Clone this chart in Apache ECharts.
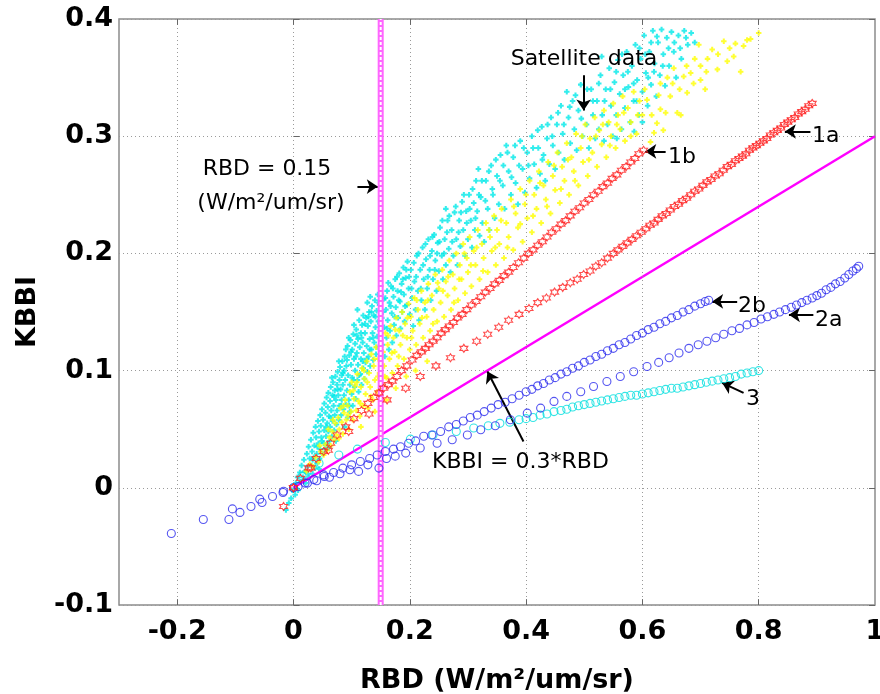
<!DOCTYPE html>
<html><head><meta charset="utf-8">
<script src="https://cdn.jsdelivr.net/npm/echarts@6/dist/echarts.min.js"></script>
<style>html,body{margin:0;padding:0;background:#fff}#c{width:880px;height:694px}</style>
</head><body><div id="c"></div>
<script>
// ---------- axis ticks ----------
const xTickValues = [-0.2, 0, 0.2, 0.4, 0.6, 0.8];
const xRange = [-0.3, 1];
const yRange = [-0.1, 0.4];
const rbdThreshold = 0.15;
const kbbiSlope = 0.3;

// ---------- satellite data (cyan) ----------
const satCyan = [
[-0.013,-0.019],[-0.008,-0.013],[-0.004,-0.009],[-0.002,-0.002],[0.003,-0.006],[0.004,0.004],[0.007,0.009],[0.008,-0.002],[0.011,0.013],[0.012,0.005],[0.014,0.019],[0.016,0.009],[0.018,0.024],[0.019,0.014],[0.021,0.004],[0.023,0.029],[0.024,0.018],[0.026,0.035],[0.027,0.009],[0.028,0.025],
[0.03,0.041],[0.031,0.019],[0.032,0.031],[0.033,0.012],[0.034,0.047],[0.035,0.026],[0.036,0.036],[0.037,0.017],[0.038,0.052],[0.039,0.043],[0.04,0.029],[0.041,0.021],[0.042,0.057],[0.043,0.038],[0.044,0.048],[0.045,0.025],[0.046,0.062],[0.046,0.033],[0.047,0.053],[0.048,0.043],[0.049,0.067],[0.05,0.029],[0.051,0.058],[0.052,0.038],[0.053,0.072],[0.053,0.049],[0.054,0.033],[0.055,0.064],[0.056,0.044],[0.057,0.077],[0.058,0.055],[0.058,0.037],[0.059,0.069],[0.06,0.048],[0.06,0.081],
[0.061,0.061],[0.062,0.04],[0.063,0.074],[0.063,0.052],[0.064,0.086],[0.065,0.066],[0.066,0.044],[0.067,0.079],[0.067,0.057],[0.068,0.09],[0.069,0.07],[0.07,0.049],[0.071,0.083],[0.071,0.062],[0.072,0.095],[0.073,0.075],[0.074,0.054],[0.075,0.088],[0.075,0.066],[0.076,0.099],[0.077,0.079],[0.078,0.058],[0.079,0.092],[0.079,0.07],[0.08,0.103],[0.081,0.084],[0.082,0.062],[0.083,0.096],[0.083,0.075],[0.084,0.108],[0.085,0.088],[0.086,0.067],[0.087,0.1],[0.087,0.079],[0.088,0.112],[0.089,0.092],[0.09,0.071],[0.09,0.118],[0.066,0.094],[0.078,0.108],
[0.091,0.104],[0.092,0.083],[0.093,0.06],[0.093,0.121],[0.094,0.096],[0.095,0.075],[0.096,0.113],[0.097,0.088],[0.097,0.065],[0.098,0.126],[0.099,0.105],[0.1,0.08],[0.101,0.118],[0.101,0.094],[0.102,0.07],[0.103,0.131],[0.104,0.11],[0.105,0.086],[0.106,0.123],[0.106,0.1],[0.107,0.076],[0.108,0.135],[0.109,0.115],[0.11,0.092],[0.111,0.127],[0.111,0.105],[0.112,0.082],[0.113,0.143],[0.114,0.12],[0.115,0.097],[0.116,0.132],[0.116,0.11],[0.117,0.088],[0.118,0.139],[0.119,0.124],[0.12,0.102],[0.12,0.147],[0.104,0.139],[0.095,0.128],[0.11,0.152],
[0.121,0.115],[0.122,0.093],[0.123,0.132],[0.124,0.107],[0.125,0.145],[0.126,0.121],[0.127,0.099],[0.128,0.138],[0.129,0.112],[0.13,0.15],[0.131,0.127],[0.132,0.104],[0.133,0.142],[0.134,0.118],[0.135,0.155],[0.136,0.132],[0.137,0.109],[0.138,0.147],[0.139,0.124],[0.14,0.16],[0.141,0.137],[0.142,0.114],[0.143,0.151],[0.144,0.129],[0.145,0.165],[0.146,0.142],[0.147,0.12],[0.148,0.156],[0.149,0.134],[0.15,0.172],[0.132,0.163],[0.127,0.158],
[0.152,0.145],[0.153,0.122],[0.155,0.161],[0.156,0.137],[0.157,0.112],[0.159,0.152],[0.16,0.128],[0.161,0.168],[0.162,0.143],[0.164,0.118],[0.165,0.158],[0.166,0.134],[0.168,0.172],[0.169,0.149],[0.17,0.124],[0.172,0.163],[0.173,0.139],[0.175,0.178],[0.176,0.154],[0.177,0.13],[0.179,0.168],[0.18,0.145],[0.182,0.183],[0.183,0.159],[0.184,0.136],[0.186,0.174],[0.187,0.15],[0.189,0.188],[0.19,0.165],[0.191,0.142],[0.193,0.179],[0.195,0.156],[0.196,0.193],[0.198,0.17],[0.2,0.148],
[0.202,0.186],[0.204,0.162],[0.206,0.138],[0.208,0.176],[0.21,0.152],[0.212,0.198],[0.214,0.168],[0.216,0.143],[0.218,0.186],[0.22,0.16],[0.222,0.205],[0.224,0.178],[0.226,0.152],[0.228,0.195],[0.23,0.17],[0.232,0.212],[0.234,0.186],[0.236,0.16],[0.238,0.202],[0.24,0.178],[0.242,0.216],[0.244,0.194],[0.246,0.168],[0.248,0.209],[0.25,0.185],
[0.252,0.222],[0.255,0.198],[0.257,0.178],[0.26,0.212],[0.262,0.19],[0.265,0.228],[0.267,0.204],[0.27,0.184],[0.272,0.22],[0.275,0.198],[0.277,0.235],[0.28,0.212],[0.282,0.19],[0.285,0.228],[0.287,0.206],[0.29,0.244],[0.292,0.22],[0.295,0.198],[0.297,0.236],[0.3,0.212],[0.302,0.25],[0.305,0.228],[0.307,0.205],[0.31,0.243],[0.312,0.22],[0.314,0.262],[0.316,0.236],[0.318,0.272],[0.32,0.215],[0.262,0.238],
[0.322,0.248],[0.325,0.226],[0.328,0.21],[0.331,0.262],[0.334,0.238],[0.337,0.22],[0.34,0.275],[0.343,0.25],[0.346,0.23],[0.35,0.266],[0.353,0.242],[0.356,0.284],[0.36,0.258],[0.363,0.238],[0.366,0.292],[0.37,0.27],[0.374,0.25],[0.378,0.282],[0.382,0.26],[0.386,0.242],[0.39,0.296],[0.394,0.272],[0.398,0.252],[0.402,0.286],[0.406,0.264],[0.41,0.3],[0.414,0.276],[0.418,0.256],
[0.421,0.29],[0.424,0.268],[0.427,0.308],[0.43,0.284],[0.433,0.262],[0.436,0.298],[0.44,0.276],[0.443,0.316],[0.446,0.292],[0.45,0.272],[0.453,0.31],[0.456,0.286],[0.46,0.326],[0.463,0.302],[0.466,0.28],[0.47,0.338],[0.473,0.316],[0.476,0.294],[0.48,0.33],[0.483,0.306],[0.487,0.288],[0.49,0.322],[0.494,0.344],[0.497,0.3],[0.5,0.328],[0.504,0.31],[0.508,0.29],[0.512,0.34],[0.515,0.318],[0.519,0.298],
[0.522,0.33],[0.525,0.306],[0.528,0.352],[0.531,0.318],[0.534,0.296],[0.537,0.34],[0.54,0.31],[0.543,0.358],[0.546,0.326],[0.549,0.3],[0.552,0.346],[0.555,0.318],[0.558,0.365],[0.561,0.336],[0.564,0.306],[0.567,0.352],[0.57,0.324],[0.573,0.372],[0.576,0.342],[0.579,0.312],[0.582,0.36],[0.585,0.33],[0.588,0.378],[0.591,0.348],[0.594,0.318],[0.597,0.366],[0.6,0.338],[0.603,0.386],[0.606,0.354],[0.609,0.326],[0.612,0.372],[0.615,0.344],[0.618,0.39],[0.621,0.362],[0.624,0.334],[0.627,0.38],[0.63,0.352],[0.633,0.391],[0.636,0.37],[0.639,0.343],[0.642,0.384],[0.646,0.36],[0.65,0.389],[0.654,0.372],[0.658,0.35],[0.662,0.386],[0.667,0.366],[0.672,0.39],[0.678,0.378],[0.684,0.388],[0.69,0.38],[0.556,0.298],[0.586,0.304],[0.6,0.312],[0.53,0.368],
[0.018,0.006],[0.025,0.012],[0.033,0.024],[0.041,0.035],[0.044,0.016],[0.049,0.04],[0.056,0.052],[0.061,0.034],[0.064,0.06],[0.07,0.078],[0.073,0.04],[0.076,0.084],[0.082,0.07],[0.085,0.098],[0.088,0.052],[0.092,0.109],[0.096,0.07],[0.099,0.116],[0.103,0.092],[0.107,0.112],[0.109,0.13],[0.113,0.096],[0.117,0.128],[0.119,0.108],[0.123,0.14],[0.126,0.11],[0.129,0.146],[0.131,0.118],[0.134,0.15],[0.137,0.128],[0.141,0.146],[0.143,0.12],[0.146,0.158],[0.149,0.14],[0.151,0.165],[0.154,0.15],[0.158,0.162],[0.161,0.136],[0.163,0.175],[0.167,0.155],[0.171,0.17],[0.174,0.146],[0.178,0.18],[0.181,0.16],[0.185,0.167],[0.188,0.178],[0.192,0.155],[0.194,0.186],[0.199,0.18],[0.203,0.17],[0.207,0.192],[0.211,0.18],[0.215,0.2],[0.219,0.17],[0.223,0.19],[0.227,0.208],[0.231,0.18],[0.235,0.198],[0.239,0.214],[0.243,0.186],[0.247,0.2],[0.251,0.21],[0.256,0.228],[0.259,0.2],[0.264,0.218],[0.268,0.232],[0.273,0.21],[0.279,0.24],[0.284,0.218],[0.288,0.235],[0.293,0.25],[0.298,0.226],[0.303,0.238],[0.308,0.255],[0.313,0.23],[0.319,0.25],[0.324,0.262],[0.33,0.245],[0.336,0.27],[0.342,0.255],[0.348,0.28],[0.355,0.262],[0.361,0.275],[0.368,0.286],[0.375,0.265],[0.381,0.292],[0.388,0.275],[0.396,0.29],[0.404,0.275],[0.412,0.29],[0.42,0.305],[0.428,0.28],[0.437,0.31],[0.445,0.3],[0.455,0.32],[0.465,0.31],[0.475,0.325],[0.485,0.335],[0.495,0.315],[0.505,0.34],[0.515,0.33],[0.525,0.345],[0.535,0.33],[0.545,0.34],[0.555,0.355],[0.565,0.37],[0.575,0.355],[0.585,0.345],[0.595,0.375],[0.605,0.37],[0.615,0.38],[0.625,0.385],[0.635,0.36],[0.645,0.375],[0.655,0.38],[0.665,0.375],[0.675,0.384],[0.61,0.35],[0.59,0.33],[0.57,0.34],[0.62,0.355]
];

// ---------- satellite data (yellow) ----------
const satYellow = [
[0.022,0.014],[0.028,0.02],[0.034,0.018],[0.038,0.026],[0.043,0.022],[0.047,0.031],[0.052,0.028],[0.055,0.037],[0.058,0.032],[0.062,0.043],
[0.064,0.036],[0.067,0.048],[0.07,0.041],[0.072,0.055],[0.074,0.045],[0.077,0.06],[0.079,0.05],[0.081,0.068],[0.083,0.056],[0.085,0.046],[0.087,0.064],[0.089,0.075],[0.091,0.058],[0.093,0.07],[0.095,0.05],[0.097,0.082],[0.099,0.065],[0.1,0.09],
[0.102,0.058],[0.104,0.076],[0.106,0.087],[0.108,0.066],[0.11,0.097],[0.112,0.074],[0.114,0.061],[0.116,0.086],[0.118,0.102],[0.12,0.07],[0.122,0.093],[0.124,0.08],[0.126,0.108],[0.128,0.068],[0.13,0.098],[0.132,0.086],[0.134,0.114],[0.136,0.075],[0.138,0.104],[0.14,0.092],[0.142,0.12],[0.144,0.082],[0.146,0.11],[0.148,0.098],[0.15,0.126],[0.116,0.052],[0.14,0.065],
[0.152,0.088],[0.154,0.116],[0.156,0.104],[0.158,0.132],[0.16,0.094],[0.162,0.122],[0.165,0.11],[0.167,0.138],[0.17,0.098],[0.172,0.128],[0.174,0.116],[0.177,0.145],[0.179,0.104],[0.182,0.134],[0.184,0.122],[0.187,0.15],[0.19,0.11],[0.192,0.14],[0.195,0.128],[0.198,0.157],[0.2,0.118],[0.176,0.085],[0.194,0.095],[0.16,0.075],
[0.202,0.146],[0.205,0.134],[0.208,0.162],[0.211,0.122],[0.214,0.152],[0.217,0.14],[0.22,0.168],[0.223,0.128],[0.226,0.158],[0.229,0.146],[0.232,0.174],[0.235,0.134],[0.238,0.164],[0.241,0.152],[0.244,0.182],[0.247,0.142],[0.25,0.17],[0.21,0.1],[0.23,0.108],
[0.253,0.158],[0.256,0.186],[0.259,0.146],[0.262,0.176],[0.265,0.164],[0.268,0.194],[0.271,0.152],[0.274,0.182],[0.277,0.17],[0.28,0.2],[0.283,0.16],[0.286,0.19],[0.289,0.178],[0.292,0.208],[0.295,0.166],[0.298,0.196],[0.3,0.184],
[0.303,0.214],[0.306,0.172],[0.31,0.202],[0.313,0.19],[0.317,0.22],[0.32,0.178],[0.324,0.208],[0.327,0.196],[0.331,0.226],[0.334,0.184],[0.338,0.214],[0.341,0.202],[0.345,0.232],[0.348,0.19],[0.35,0.22],
[0.354,0.208],[0.358,0.238],[0.362,0.196],[0.366,0.226],[0.37,0.214],[0.374,0.246],[0.378,0.203],[0.382,0.234],[0.386,0.222],[0.39,0.255],[0.394,0.21],[0.398,0.242],
[0.402,0.23],[0.406,0.262],[0.41,0.218],[0.414,0.25],[0.418,0.238],[0.422,0.27],[0.426,0.226],[0.43,0.258],[0.434,0.246],[0.438,0.278],[0.442,0.234],[0.446,0.266],[0.45,0.254],
[0.454,0.286],[0.458,0.243],[0.462,0.274],[0.466,0.262],[0.47,0.294],[0.474,0.25],[0.478,0.282],[0.482,0.27],[0.486,0.302],[0.49,0.258],[0.494,0.29],[0.498,0.278],
[0.502,0.31],[0.506,0.266],[0.51,0.298],[0.514,0.286],[0.518,0.316],[0.522,0.274],[0.526,0.305],[0.53,0.293],[0.534,0.322],[0.538,0.282],[0.542,0.312],[0.546,0.3],[0.55,0.328],
[0.554,0.29],[0.558,0.318],[0.562,0.306],[0.566,0.334],[0.57,0.296],[0.575,0.324],[0.58,0.312],[0.585,0.338],[0.59,0.302],[0.595,0.33],[0.6,0.318],
[0.608,0.331],[0.614,0.295],[0.62,0.303],[0.625,0.311],[0.631,0.323],[0.631,0.345],[0.636,0.305],[0.643,0.35],[0.648,0.334],[0.654,0.358],[0.66,0.32],[0.666,0.318],[0.671,0.351],[0.677,0.337],[0.683,0.354],[0.697,0.378],[0.7,0.36],[0.7,0.348],[0.712,0.366],[0.72,0.374],[0.729,0.357],[0.74,0.381],[0.746,0.364],[0.757,0.368],[0.76,0.379],[0.769,0.355],[0.774,0.377],[0.78,0.382],[0.786,0.383],[0.8,0.388],[0.69,0.366],[0.708,0.34],
[0.045,0.036],[0.06,0.05],[0.068,0.058],[0.078,0.042],[0.086,0.07],[0.094,0.062],[0.103,0.083],[0.109,0.09],[0.115,0.072],[0.121,0.1],[0.127,0.09],[0.133,0.078],[0.139,0.11],[0.145,0.095],[0.151,0.112],[0.157,0.095],[0.163,0.13],[0.169,0.115],[0.175,0.135],[0.181,0.112],[0.188,0.13],[0.196,0.145],[0.203,0.128],[0.212,0.16],[0.221,0.145],[0.231,0.16],[0.24,0.14],[0.248,0.175],[0.257,0.168],[0.266,0.18],[0.276,0.158],[0.285,0.178],[0.294,0.2],[0.305,0.19],[0.315,0.205],[0.326,0.185],[0.336,0.22],[0.347,0.205],[0.357,0.228],[0.368,0.205],[0.379,0.24],[0.39,0.225],[0.4,0.25],[0.412,0.232],[0.424,0.26],[0.436,0.24],[0.448,0.275],[0.46,0.255],[0.472,0.28],[0.484,0.262],[0.496,0.3],[0.508,0.28],[0.52,0.3],[0.532,0.31],[0.544,0.292],[0.556,0.31],[0.568,0.32],[0.58,0.3],[0.592,0.318],[0.604,0.34],[0.616,0.318],[0.628,0.335],[0.64,0.32],[0.652,0.345],[0.664,0.34],[0.676,0.36],[0.688,0.345],[0.71,0.355],[0.73,0.37],[0.75,0.375]
];

// ---------- model curves ----------
const curve1a = [
[0,0],[0.03,0.017],[0.06,0.032],[0.095,0.048],[0.13,0.063],[0.161,0.075],[0.193,0.085],[0.218,0.095],[0.245,0.104],[0.27,0.111],[0.293,0.119],[0.315,0.125],[0.334,0.131],[0.353,0.137],[0.37,0.143],[0.388,0.148],[0.405,0.153],[0.42,0.158],[0.435,0.162],[0.449,0.167],[0.463,0.171],[0.476,0.175],[0.488,0.178],[0.499,0.182],[0.51,0.185],
[0.52,0.189],[0.53,0.192],[0.54,0.196],[0.55,0.2],[0.558,0.203],[0.566,0.206],[0.574,0.209],[0.582,0.212],[0.59,0.215],[0.598,0.218],[0.606,0.221],[0.613,0.224],[0.62,0.226],[0.627,0.229],[0.634,0.232],[0.641,0.234],[0.648,0.237],[0.655,0.24],[0.662,0.242],[0.669,0.245],[0.676,0.247],[0.683,0.25],[0.69,0.253],[0.697,0.255],[0.704,0.258],[0.711,0.261],[0.718,0.263],[0.725,0.266],[0.732,0.268],[0.739,0.271],[0.746,0.274],[0.753,0.276],[0.76,0.279],[0.766,0.281],[0.772,0.283],[0.778,0.285],[0.784,0.288],[0.79,0.29],[0.796,0.292],[0.802,0.294],[0.808,0.296],[0.814,0.298],[0.82,0.301],[0.826,0.303],[0.832,0.305],[0.838,0.307],[0.844,0.31],[0.85,0.312],[0.856,0.314],[0.862,0.316],[0.868,0.319],[0.874,0.321],[0.88,0.323],[0.886,0.326],[0.892,0.328]
];
const curve1b = [
[-0.017,-0.016],[0,0],[0.012,0.008],[0.026,0.017],[0.039,0.025],[0.052,0.031],[0.064,0.038],[0.075,0.045],[0.09,0.052],[0.104,0.059],[0.117,0.066],[0.128,0.072],[0.138,0.077],[0.147,0.081],[0.155,0.085],[0.163,0.088],[0.17,0.091],[0.178,0.095],[0.186,0.1],[0.195,0.104],[0.204,0.109],[0.212,0.113],[0.22,0.116],[0.227,0.119],[0.233,0.122],[0.24,0.125],[0.247,0.128],[0.254,0.132],[0.261,0.135],[0.268,0.138],[0.275,0.141],[0.282,0.145],[0.29,0.148],[0.298,0.152],[0.306,0.156],[0.314,0.159],[0.322,0.163],[0.33,0.167],[0.338,0.17],[0.346,0.174],[0.354,0.177],[0.362,0.181],[0.37,0.184],[0.378,0.188],[0.387,0.192],[0.396,0.196],[0.404,0.2],[0.412,0.203],[0.42,0.207],[0.428,0.21],[0.436,0.214],[0.444,0.218],[0.452,0.221],[0.46,0.225],[0.468,0.228],[0.476,0.232],[0.484,0.236],[0.492,0.239],[0.5,0.243],[0.508,0.246],[0.516,0.25],[0.524,0.253],[0.532,0.257],[0.54,0.26],[0.548,0.264],[0.556,0.267],[0.564,0.271],[0.572,0.274],[0.58,0.278],[0.587,0.281],[0.594,0.285],[0.602,0.288]
];
const curve2a = [
[-0.21,-0.039],[-0.155,-0.027],[-0.111,-0.027],[-0.105,-0.018],[-0.092,-0.021],[-0.073,-0.016],[-0.058,-0.0097],[-0.054,-0.0125],[-0.036,-0.0074],[-0.018,-0.004],[-0.017,-0.003],[0,0],[0.008,0.001],[0.024,0.004],[0.04,0.006],[0.053,0.0097],[0.062,0.009],[0.08,0.012],[0.097,0.0154],[0.112,0.014],[0.128,0.0196],[0.147,0.0168],[0.16,0.025],[0.175,0.027],[0.193,0.0296],[0.218,0.0339],[0.247,0.038],[0.273,0.041],[0.299,0.045],[0.322,0.0495],[0.347,0.053],[0.373,0.058],[0.402,0.0637],[0.425,0.068],[0.448,0.0737],[0.47,0.078],[0.494,0.082],[0.516,0.0864],[0.539,0.0907],[0.562,0.095],[0.585,0.099],[0.608,0.1035],[0.628,0.107],[0.646,0.111],[0.663,0.115],[0.68,0.119],[0.696,0.122],[0.711,0.125],[0.726,0.128],[0.74,0.131],[0.754,0.134],[0.767,0.136],[0.78,0.139],[0.792,0.141],[0.804,0.144],[0.815,0.146],[0.826,0.148],[0.836,0.15],[0.846,0.152],[0.856,0.154],[0.865,0.156],[0.874,0.158],[0.883,0.16],[0.892,0.162],[0.9,0.164],[0.908,0.166],[0.916,0.169],[0.924,0.171],[0.932,0.174],[0.94,0.176],[0.948,0.179],[0.955,0.182],[0.962,0.185],[0.968,0.187],[0.972,0.189]
];
const curve2b = [
[0.02,0.004],[0.035,0.007],[0.052,0.011],[0.069,0.013],[0.085,0.0168],[0.1,0.0196],[0.115,0.0225],[0.131,0.025],[0.144,0.028],[0.158,0.031],[0.172,0.033],[0.184,0.035],[0.198,0.038],[0.21,0.04],[0.224,0.044],[0.238,0.045],[0.253,0.048],[0.267,0.052],[0.28,0.054],[0.292,0.057],[0.304,0.06],[0.316,0.062],[0.328,0.065],[0.34,0.068],[0.352,0.071],[0.364,0.073],[0.376,0.076],[0.388,0.079],[0.4,0.082],[0.41,0.084],[0.42,0.087],[0.43,0.089],[0.44,0.092],[0.45,0.094],[0.46,0.097],[0.47,0.099],[0.48,0.102],[0.49,0.104],[0.5,0.107],[0.51,0.109],[0.52,0.112],[0.53,0.114],[0.54,0.117],[0.55,0.119],[0.56,0.122],[0.57,0.124],[0.58,0.127],[0.59,0.13],[0.6,0.132],[0.61,0.135],[0.62,0.137],[0.63,0.14],[0.64,0.142],[0.65,0.145],[0.66,0.147],[0.67,0.15],[0.68,0.152],[0.69,0.155],[0.7,0.157],[0.708,0.159],[0.714,0.16]
];
const curve3 = [
[0,0],[0.015,0.01],[0.044,0.021],[0.078,0.028],[0.11,0.033],[0.158,0.0387],[0.201,0.0415],[0.24,0.045],[0.28,0.048],[0.31,0.051],[0.335,0.053],[0.355,0.055],[0.372,0.056],[0.388,0.058],[0.4,0.059],[0.412,0.06],[0.424,0.062],[0.436,0.063],[0.448,0.065],[0.46,0.066],[0.47,0.067],[0.48,0.069],[0.49,0.07],[0.5,0.071],[0.51,0.072],[0.52,0.073],[0.53,0.074],[0.54,0.075],[0.55,0.076],[0.56,0.077],[0.57,0.078],[0.58,0.079],[0.59,0.079],[0.6,0.08],[0.61,0.081],[0.62,0.082],[0.63,0.083],[0.64,0.084],[0.65,0.085],[0.66,0.085],[0.67,0.086],[0.68,0.087],[0.69,0.088],[0.7,0.089],[0.71,0.09],[0.72,0.091],[0.73,0.092],[0.74,0.093],[0.75,0.094],[0.76,0.095],[0.77,0.097],[0.78,0.098],[0.79,0.099],[0.8,0.1]
];

// ---------- annotation arrows (from, to) in data units ----------
const arrowPairs = [
  [[0.499,0.352],[0.499,0.322]],
  [[0.11,0.257],[0.145,0.257]],
  [[0.64,0.287],[0.605,0.287]],
  [[0.889,0.304],[0.845,0.304]],
  [[0.763,0.159],[0.72,0.159]],
  [[0.894,0.1476],[0.852,0.1476]],
  [[0.774,0.081],[0.737,0.0896]],
  [[0.3955,0.0395],[0.3336,0.0992]]
];

const chart = echarts.init(document.getElementById('c'), null, {renderer:'canvas'});
const FONT = 'DejaVu Sans';
const axisFont = {fontSize:27, fontWeight:'bold', fontFamily:FONT, color:'#000'};
const starPath = 'path://M10,0L12.89,5L18.66,5L15.77,10L18.66,15L12.89,15L10,20L7.11,15L1.34,15L4.23,10L1.34,5L7.11,5Z';
const plusPath = 'path://M2.5,0H5.5V2.5H8V5.5H5.5V8H2.5V5.5H0V2.5H2.5Z';

function hollow(name, data, symbol, size, color, z){
  return {name, type:'scatter', data, symbol, symbolSize:size, z, silent:true,
    emphasis:{disabled:true},
    itemStyle:{color:'rgba(0,0,0,0)', borderColor:color, borderWidth:1.1}};
}

const option = {
  animation:false,
  backgroundColor:'#fff',
  grid:{left:119, right:5, top:19, bottom:89, show:true, borderColor:'#8c8c8c', borderWidth:1.5, containLabel:false, outerBoundsMode:'none'},
  xAxis:{type:'value', min:xRange[0], max:xRange[1], interval:0.1,
    axisLine:{show:false}, axisTick:{show:false}, splitLine:{show:false},
    axisLabel:Object.assign({margin:13, formatter:v=>{const k=Math.round(v*10); return (k%2!==0)?'':String(k/10);}}, axisFont),
    name:'RBD (W/m²/um/sr)', nameLocation:'middle', nameGap:62, nameTextStyle:Object.assign({}, axisFont)},
  yAxis:[
    {type:'value', min:yRange[0], max:yRange[1], interval:0.1,
      axisLine:{show:false}, axisTick:{show:true, inside:true, length:6, lineStyle:{color:'#666'}},
      splitLine:{show:true, lineStyle:{color:'#9a9a9a', type:[1,3], width:1}},
      axisLabel:Object.assign({margin:6, formatter:v=>String(Math.round(v*10)/10)}, axisFont),
      name:'KBBI', nameLocation:'middle', nameGap:78, nameRotate:90, nameTextStyle:Object.assign({}, axisFont)},
    {type:'value', position:'right', min:yRange[0], max:yRange[1], interval:0.1,
      axisLine:{show:false}, axisTick:{show:true, inside:true, length:6, lineStyle:{color:'#666'}},
      splitLine:{show:false}, axisLabel:{show:false}}
  ],
  series:[
    {type:'line', data:[], silent:true, z:1,
      markLine:{silent:true, symbol:'none', label:{show:false}, animation:false,
        lineStyle:{color:'#9a9a9a', type:[1,3], width:1},
        data: xTickValues.map(v=>({xAxis:v})).concat(
          xTickValues.map(v=>[{coord:[v,yRange[0]], lineStyle:{type:'solid', color:'#666'}},{coord:[v,yRange[0]+0.005]}]),
          xTickValues.map(v=>[{coord:[v,yRange[1]], lineStyle:{type:'solid', color:'#666'}},{coord:[v,yRange[1]-0.005]}]))}},
    {name:'satCyan', type:'scatter', data:satCyan, symbol:plusPath, symbolSize:5.5, z:2, silent:true, emphasis:{disabled:true}, itemStyle:{color:'#00e8e8'}},
    {name:'satYellow', type:'scatter', data:satYellow, symbol:plusPath, symbolSize:5.5, z:3, silent:true, emphasis:{disabled:true}, itemStyle:{color:'#ffff00'}},
    {name:'kbbiLine', type:'line', data:[[0,0],[1,kbbiSlope*1]], symbol:'none', z:4, silent:true, lineStyle:{color:'#ff00ff', width:2.5}},
    {name:'rbdLine', type:'line', data:[[rbdThreshold,yRange[0]],[rbdThreshold,yRange[1]]], symbol:'none', z:5, silent:true, lineStyle:{color:'#ff66ff', width:6}},
    {name:'rbdLineInner', type:'line', data:[[rbdThreshold,yRange[0]],[rbdThreshold,yRange[1]]], symbol:'none', z:6, silent:true, lineStyle:{color:'#ffffff', width:2, type:[3,2]}},
    hollow('3', curve3, 'circle', 8, '#00dede', 7),
    hollow('2a', curve2a, 'circle', 8, '#2a2aee', 8),
    hollow('2b', curve2b, 'circle', 8, '#2a2aee', 8),
    hollow('1a', curve1a, starPath, 8, '#ff2020', 9),
    hollow('1b', curve1b, starPath, 8, '#ff2020', 9),
    {type:'line', data:[], silent:true, z:20,
      markLine:{silent:true, symbol:['none','arrow'], symbolSize:11, label:{show:false}, animation:false,
        lineStyle:{color:'#000', type:'solid', width:2},
        data: arrowPairs.map(p=>[{coord:p[0]},{coord:p[1]}])}}
  ],
  graphic:[
    {type:'text', x:584, y:59, z:100, style:{text:'Satellite data', font:'22px "DejaVu Sans"', fill:'#000', align:'center', verticalAlign:'middle'}},
    {type:'text', x:267, y:169, z:100, style:{text:'RBD = 0.15', font:'22px "DejaVu Sans"', fill:'#000', align:'center', verticalAlign:'middle'}},
    {type:'text', x:271, y:203, z:100, style:{text:'(W/m²/um/sr)', font:'22px "DejaVu Sans"', fill:'#000', align:'center', verticalAlign:'middle'}},
    {type:'text', x:668, y:157, z:100, style:{text:'1b', font:'22px "DejaVu Sans"', fill:'#000', align:'left', verticalAlign:'middle'}},
    {type:'text', x:812, y:136, z:100, style:{text:'1a', font:'22px "DejaVu Sans"', fill:'#000', align:'left', verticalAlign:'middle'}},
    {type:'text', x:738, y:306, z:100, style:{text:'2b', font:'22px "DejaVu Sans"', fill:'#000', align:'left', verticalAlign:'middle'}},
    {type:'text', x:815, y:320, z:100, style:{text:'2a', font:'22px "DejaVu Sans"', fill:'#000', align:'left', verticalAlign:'middle'}},
    {type:'text', x:746, y:399, z:100, style:{text:'3', font:'22px "DejaVu Sans"', fill:'#000', align:'left', verticalAlign:'middle'}},
    {type:'text', x:432, y:462, z:100, style:{text:'KBBI = 0.3*RBD', font:'22px "DejaVu Sans"', fill:'#000', align:'left', verticalAlign:'middle'}}
  ]
};
chart.setOption(option);
</script>
</body></html>
